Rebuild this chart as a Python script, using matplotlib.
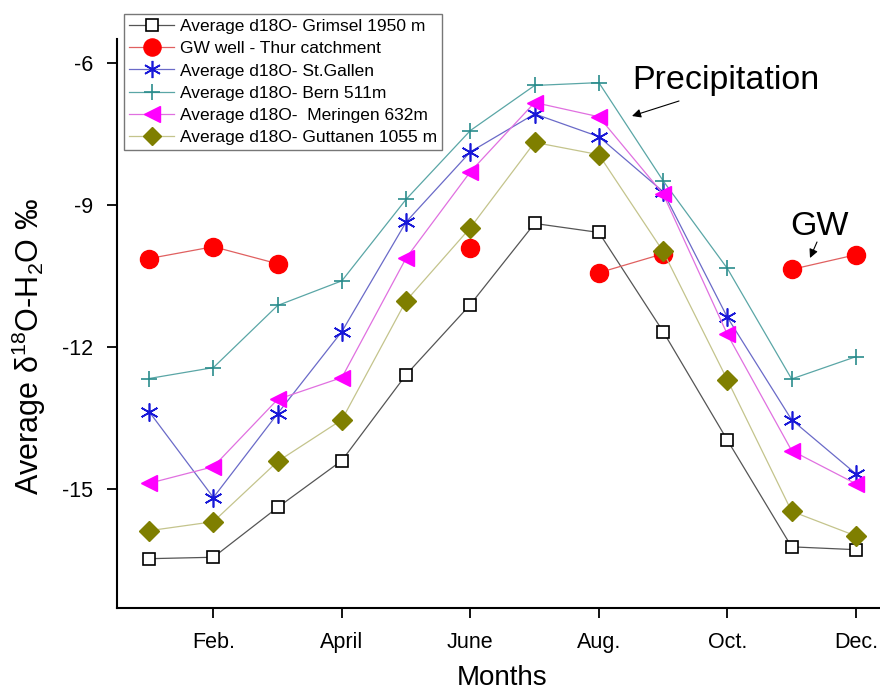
import numpy as np
import matplotlib
matplotlib.use("Agg")
import matplotlib.pyplot as plt

plt.rcParams['font.family'] = ['Liberation Sans', 'DejaVu Sans']
plt.rcParams['mathtext.default'] = 'regular'
plt.rcParams['axes.unicode_minus'] = False

# monthly averages of d18O (permil), month 1..12
months = np.arange(1, 13)
grimsel = [-16.46, -16.43, -15.38, -14.39, -12.58, -11.10, -9.39, -9.58, -11.67, -13.96, -16.21, -16.27]
gw_well = [-10.13, -9.88, -10.24, np.nan, np.nan, -9.90, np.nan, -10.43, -10.03, np.nan, -10.36, -10.05]
st_gallen = [-13.36, -15.17, -13.40, -11.67, -9.36, -7.88, -7.08, -7.56, -8.72, -11.37, -13.53, -14.67]
bern = [-12.66, -12.43, -11.12, -10.60, -8.88, -7.43, -6.48, -6.42, -8.49, -10.34, -12.67, -12.20]
meringen = [-14.87, -14.52, -13.10, -12.64, -10.12, -8.30, -6.84, -7.14, -8.77, -11.73, -14.18, -14.88]
guttanen = [-15.87, -15.68, -14.41, -13.53, -11.02, -9.48, -7.68, -7.94, -9.98, -12.69, -15.46, -15.98]

tick_months = [2, 4, 6, 8, 10, 12]
tick_names = ['Feb.', 'April', 'June', 'Aug.', 'Oct.', 'Dec.']

fig = plt.figure(figsize=(8.8, 6.91), dpi=100)
ax = fig.add_axes([117 / 880, 83 / 691, 771 / 880, 569 / 691])

ax.plot(months, grimsel, color='#555555', lw=0.9, marker='s', ms=9,
        mfc='white', mec='black', mew=1.2, label='Average d18O- Grimsel 1950 m')
ax.plot(months, gw_well, color='#e06060', lw=0.9, marker='o', ms=13,
        mfc='#ff0000', mec='#ff0000', label='GW well - Thur catchment')
ax.plot(months, st_gallen, color='#6a6ac8', lw=0.9, marker=(6, 2, 0), ms=13,
        mec='#1818d8', mew=1.2, label='Average d18O- St.Gallen')
ax.plot(months, bern, color='#5aa6a6', lw=0.9, marker='+', ms=12,
        mec='#2a8c8c', mew=1.2, label='Average d18O- Bern 511m')
ax.plot(months, meringen, color='#e070e0', lw=0.9, marker='<', ms=12,
        mfc='#ff00ff', mec='#ff00ff', label='Average d18O-  Meringen 632m')
ax.plot(months, guttanen, color='#c4c48c', lw=0.9, marker='D', ms=10,
        mfc='#7f7f00', mec='#7f7f00', label='Average d18O- Guttanen 1055 m')

ax.set_xlim(0.5, 12.5)
ax.set_ylim(-17.5, -5.5)
ax.set_xticks(tick_months)
ax.set_xticklabels(tick_names)
ax.set_yticks([-6, -9, -12, -15])
ax.tick_params(axis='both', direction='out', length=7, width=1.3, labelsize=15.5)
ax.tick_params(axis='x', pad=10)
ax.tick_params(axis='y', pad=10)
for side in ('top', 'right'):
    ax.spines[side].set_visible(False)
for side in ('left', 'bottom'):
    ax.spines[side].set_linewidth(1.5)

ax.set_xlabel('Months', fontsize=20, labelpad=9)
ax.set_ylabel('Average δ$^{18}$O-H$_2$O ‰', fontsize=22)
ax.yaxis.set_label_coords(-0.09, 0.46)

# text labels and their pointer arrows
fig.text(726 / 880, 602 / 691, 'Precipitation', fontsize=24.5, ha='center', va='baseline')
ax.annotate('', xy=(632, 575), xycoords='figure pixels',
            xytext=(679, 590), textcoords='figure pixels',
            arrowprops=dict(arrowstyle='-|>', color='black', lw=0.8,
                            shrinkA=0, shrinkB=0, mutation_scale=13))
fig.text(819 / 880, 456 / 691, 'GW', fontsize=24.5, ha='center', va='baseline')
ax.annotate('', xy=(810, 433), xycoords='figure pixels',
            xytext=(817, 449), textcoords='figure pixels',
            arrowprops=dict(arrowstyle='-|>', color='black', lw=0.8,
                            shrinkA=0, shrinkB=0, mutation_scale=13))

leg = ax.legend(loc='upper left', bbox_to_anchor=(124 / 880, 1 - 14 / 691),
                bbox_transform=fig.transFigure, borderaxespad=0, fontsize=12.5,
                labelspacing=0.4, handlelength=2.6, handletextpad=0.3,
                borderpad=0.3, fancybox=False, framealpha=1, markerscale=0.95)
leg.get_frame().set_edgecolor('#777777')
leg.get_frame().set_linewidth(1.0)

fig.savefig('out.png', dpi=100)
